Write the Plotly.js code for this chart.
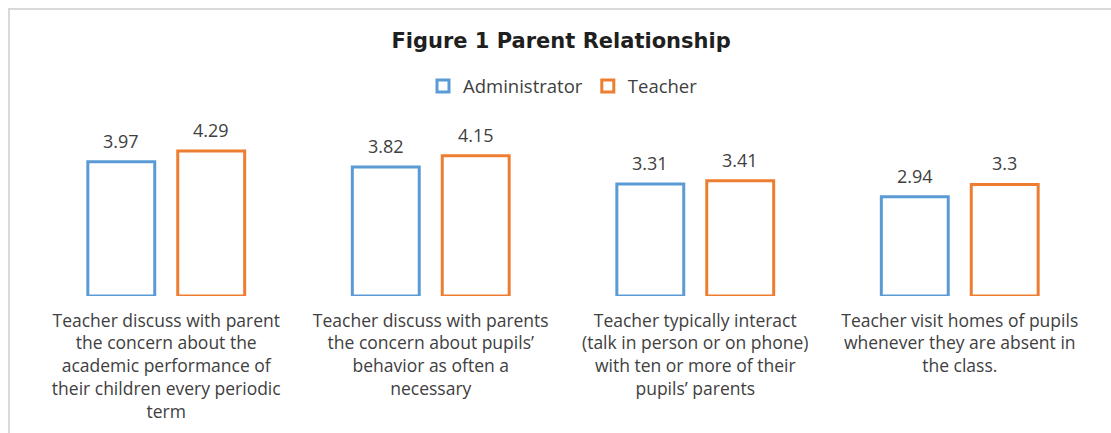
<!DOCTYPE html>
<html><head><meta charset="utf-8">
<script src="https://cdn.plot.ly/plotly-3.0.1.min.js"></script>
<style>
html,body{margin:0;padding:0;background:#fff;}
#wrap{position:relative;width:1111px;height:433px;overflow:hidden;}
#frame{position:absolute;left:8px;top:8px;width:1200px;height:600px;border-left:2px solid #d9d9d9;border-top:2px solid #d9d9d9;pointer-events:none;}
#chart{position:absolute;left:0;top:0;width:1111px;height:433px;}
</style></head>
<body><div id="wrap"><div id="chart"></div><div id="frame"></div></div>
<script>
const categories = [
  "Teacher discuss with parent<br>the concern about the<br>academic performance of<br>their children every periodic<br>term",
  "Teacher discuss with parents<br>the concern about pupils’<br>behavior as often a<br>necessary",
  "Teacher typically interact<br>(talk in person or on phone)<br>with ten or more of their<br>pupils’ parents",
  "Teacher visit homes of pupils<br>whenever they are absent in<br>the class."
];
const administrator = [3.97, 3.82, 3.31, 2.94];
const teacher = [4.29, 4.15, 3.41, 3.3];

const FONT = "Open Sans";
const TXT = "#404040";

const traces = [
  {type:'bar', name:'Administrator', x:categories, y:administrator,
   marker:{color:'#ffffff', line:{color:'#5B9BD5', width:3}}, hoverinfo:'none'},
  {type:'bar', name:'Teacher', x:categories, y:teacher,
   marker:{color:'#ffffff', line:{color:'#ED7D31', width:3}}, hoverinfo:'none'}
];

const off = 0.17;
const annotations = [];
administrator.forEach((v,i)=>annotations.push({x:i-off, y:v, xref:'x', yref:'y', text:String(v), showarrow:false, yanchor:'bottom', yshift:7, font:{family:FONT, size:18, color:TXT}}));
teacher.forEach((v,i)=>annotations.push({x:i+off, y:v, xref:'x', yref:'y', text:String(v), showarrow:false, yanchor:'bottom', yshift:7, font:{family:FONT, size:18, color:TXT}}));

const layout = {
  width:1111, height:433,
  margin:{l:34, r:19, t:127, b:137},
  paper_bgcolor:'#ffffff', plot_bgcolor:'#ffffff',
  title:{text:'<b>Figure 1 Parent Relationship</b>', x:0.505, xanchor:'center', y:0.905, yanchor:'middle', yref:'container', font:{family:'DejaVu Sans', size:21, color:'#1f1f1f'}},
  showlegend:true,
  legend:{orientation:'h', x:0.5, xanchor:'center', y:1.24, yanchor:'middle', font:{family:FONT, size:18.5, color:TXT}, itemwidth:30, tracegroupgap:0},
  barmode:'group', bargap:0.32, bargroupgap:0.256,
  xaxis:{type:'category', showline:false, showgrid:false, zeroline:false, ticks:'', ticklabelstandoff:12, tickfont:{family:FONT, size:17.5, color:TXT}},
  yaxis:{range:[0,5], visible:false, showgrid:false, zeroline:false},
  annotations:annotations
};
Plotly.newPlot('chart', traces, layout, {staticPlot:true, displayModeBar:false});
</script></body></html>
